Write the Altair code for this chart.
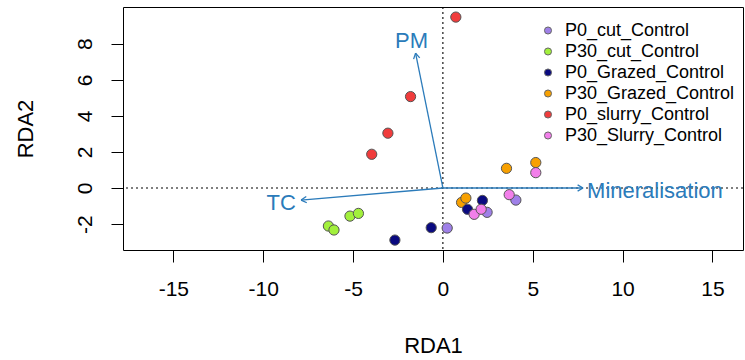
import numpy as np
import pandas as pd
import altair as alt

# Site scores on the first two RDA axes, per treatment group
groups = ["P0_cut_Control", "P30_cut_Control", "P0_Grazed_Control",
          "P30_Grazed_Control", "P0_slurry_Control", "P30_Slurry_Control"]
colors = ["#9F80E8", "#A2F03C", "#0A0A80", "#F7A000", "#F03C3C", "#F27FEA"]

cut0_x = [0.24, 2.46, 4.06]
cut0_y = [-2.22, -1.35, -0.67]
cut30_x = [-6.37, -6.06, -5.17, -4.70]
cut30_y = [-2.11, -2.33, -1.56, -1.41]
graz0_x = [-2.67, -0.65, 1.37, 2.20]
graz0_y = [-2.89, -2.20, -1.18, -0.69]
graz30_x = [1.04, 1.28, 3.54, 5.17]
graz30_y = [-0.80, -0.56, 1.09, 1.41]
slur0_x = [-3.96, -3.06, -1.80, 0.72]
slur0_y = [1.87, 3.04, 5.07, 9.48]
slur30_x = [1.74, 2.13, 3.69, 5.17]
slur30_y = [-1.46, -1.18, -0.37, 0.85]

# Environmental variable biplot arrows and their label positions
env_names = ["TC", "PM", "Mineralisation"]
env_x = [-7.89, -1.52, 7.80]
env_y = [-0.67, 7.48, 0.00]
lab_x = [-9.0, -1.74, 11.8]
lab_y = [-0.85, 8.13, -0.17]

x_ticks = [-15, -10, -5, 0, 5, 10, 15]
y_ticks = [-2, 0, 2, 4, 6, 8]
x_dom = [-17.8, 16.7]
y_dom = [-3.44, 10.04]

ARROW = "#2B7BBA"
FONT = "Liberation Sans"

# drawing order: later groups sit on top
draw_order = [
    ("P0_cut_Control", cut0_x, cut0_y),
    ("P30_cut_Control", cut30_x, cut30_y),
    ("P30_Grazed_Control", graz30_x, graz30_y),
    ("P0_Grazed_Control", graz0_x, graz0_y),
    ("P0_slurry_Control", slur0_x, slur0_y),
    ("P30_Slurry_Control", slur30_x, slur30_y),
]
rows = []
for g, xs_, ys_ in draw_order:
    for a, b in zip(xs_, ys_):
        rows.append({"group": g, "RDA1": a, "RDA2": b})
sites = pd.DataFrame(rows)

# arrow shafts plus two short barbs at each tip
head_len, head_ang = 0.35, np.deg2rad(30)
segs = []
for n, tx, ty in zip(env_names, env_x, env_y):
    segs.append({"x": 0.0, "y": 0.0, "x2": tx, "y2": ty})
    ux, uy = -tx / np.hypot(tx, ty), -ty / np.hypot(tx, ty)
    for s in (1, -1):
        c, sn = np.cos(s * head_ang), np.sin(s * head_ang)
        bx, by = ux * c - uy * sn, ux * sn + uy * c
        segs.append({"x": tx, "y": ty, "x2": tx + head_len * bx, "y2": ty + head_len * by})
arrows = pd.DataFrame(segs)
labels = pd.DataFrame({"name": env_names, "x": lab_x, "y": lab_y})

xs = alt.Scale(domain=x_dom, nice=False, zero=False)
ys = alt.Scale(domain=y_dom, nice=False, zero=False)

# plain hyphen for negative tick labels
plain = "'' + datum.value"
x_axis = alt.Axis(values=x_ticks, title="RDA1", tickSize=12, labelPadding=16,
                  titlePadding=36, grid=False, domain=False, labelExpr=plain)
y_axis = alt.Axis(values=y_ticks, title="RDA2", tickSize=12, labelAngle=-90,
                  labelAlign="center", labelBaseline="bottom", labelPadding=16,
                  titlePadding=37, grid=False, domain=False, labelExpr=plain)

hline = alt.Chart(pd.DataFrame({"v": [0]})).mark_rule(
    color="black", strokeDash=[2, 3], strokeWidth=1.1).encode(y=alt.Y("v:Q", scale=ys, axis=y_axis))
vline = alt.Chart(pd.DataFrame({"v": [0]})).mark_rule(
    color="black", strokeDash=[2, 3], strokeWidth=1.1).encode(x=alt.X("v:Q", scale=xs, axis=x_axis))

arrow_layer = alt.Chart(arrows).mark_rule(color=ARROW, strokeWidth=1.3).encode(
    x=alt.X("x:Q", scale=xs, axis=x_axis), y=alt.Y("y:Q", scale=ys, axis=y_axis),
    x2="x2:Q", y2="y2:Q")

text_layer = alt.Chart(labels).mark_text(
    color=ARROW, fontSize=22, font=FONT, align="center", baseline="middle").encode(
    x=alt.X("x:Q", scale=xs, axis=x_axis), y=alt.Y("y:Q", scale=ys, axis=y_axis), text="name:N")

points = alt.Chart(sites).mark_point(filled=True, size=105, stroke="#555555", strokeWidth=1, opacity=1).encode(
    x=alt.X("RDA1:Q", scale=xs, axis=x_axis),
    y=alt.Y("RDA2:Q", scale=ys, axis=y_axis),
    color=alt.Color("group:N", scale=alt.Scale(domain=groups, range=colors),
                    legend=alt.Legend(orient="none", legendX=416, legendY=14.5, title=None,
                                      labelFontSize=18, labelFont=FONT, labelColor="black",
                                      labelLimit=0,
                                      symbolType="circle", symbolSize=50,
                                      symbolStrokeColor="#666666", symbolStrokeWidth=1,
                                      rowPadding=3, labelOffset=8, padding=0)),
)

chart = alt.layer(hline, vline, arrow_layer, text_layer, points).properties(
    width=620, height=243,
    padding={"left": 123, "top": 7, "right": 2, "bottom": 110},
    autosize=alt.AutoSizeParams(type="none"),
    background="white",
).configure_view(stroke="black", strokeWidth=1).configure_axis(
    labelFont=FONT, titleFont=FONT, labelFontSize=21, titleFontSize=22,
    titleFontWeight="normal", labelColor="black", titleColor="black",
    tickColor="black", tickWidth=1,
)

chart.save("out.html", embed_options={"renderer": "svg", "actions": False})
